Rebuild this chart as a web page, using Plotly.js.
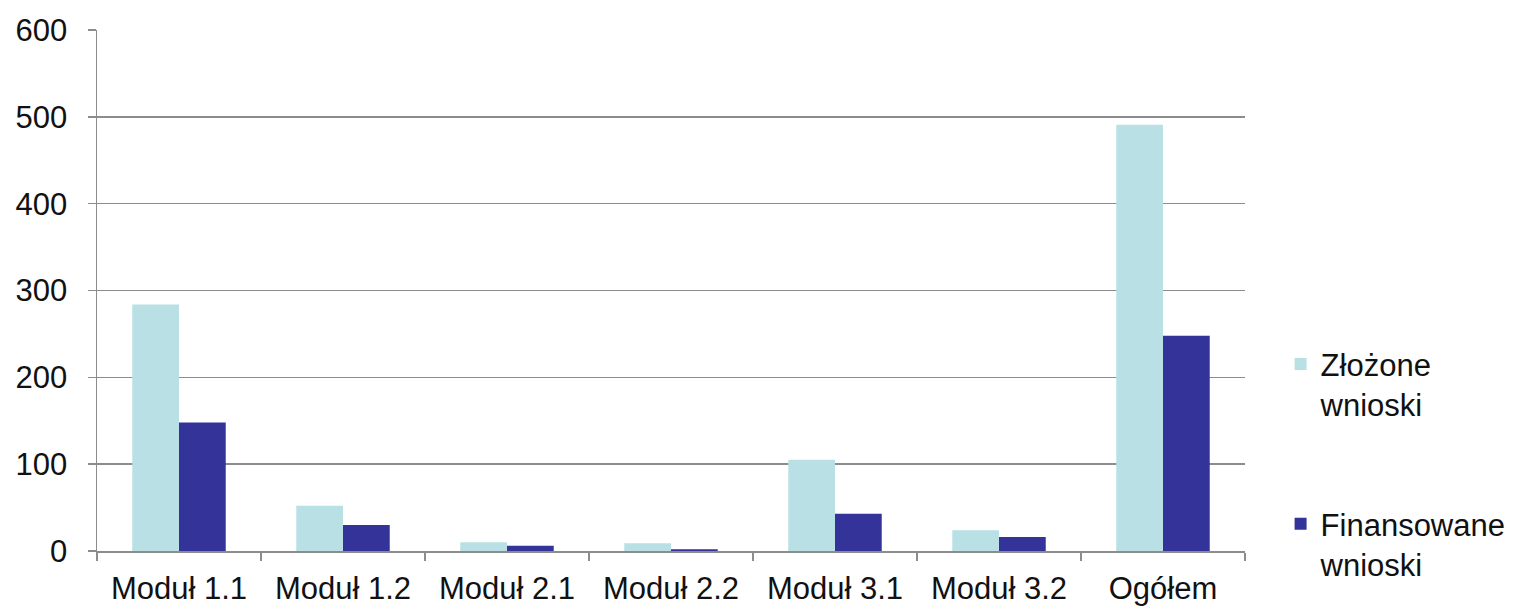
<!DOCTYPE html>
<html>
<head>
<meta charset="utf-8">
<script src="https://cdn.plot.ly/plotly-3.0.1.min.js"></script>
<style>html,body{margin:0;padding:0;background:#fff;}#chart{width:1518px;height:607px;}</style>
</head>
<body>
<div id="chart"></div>
<script>
const categories = ["Moduł 1.1", "Moduł 1.2", "Moduł 2.1", "Moduł 2.2", "Moduł 3.1", "Moduł 3.2", "Ogółem"];
const zlozone = [284, 52, 10, 9, 105, 24, 491];
const finansowane = [148, 30, 6, 2, 43, 16, 248];
const seriesNames = ["Złożone<br>wnioski", "Finansowane<br>wnioski"];
const yTicks = [0, 100, 200, 300, 400, 500, 600];

const traces = [
  {type: "bar", x: categories, y: zlozone, name: seriesNames[0], legendgroup: "a",
   marker: {color: "#B9E0E5"}, hoverinfo: "x+y"},
  {type: "bar", x: categories, y: finansowane, name: seriesNames[1], legendgroup: "b",
   marker: {color: "#333399"}, hoverinfo: "x+y"}
];

const layout = {
  width: 1518, height: 607,
  margin: {l: 97, r: 273, t: 30, b: 56, autoexpand: false},
  paper_bgcolor: "#fff", plot_bgcolor: "#fff",
  font: {family: "Liberation Sans, Arial, sans-serif", size: 31, color: "#111"},
  barmode: "group", bargap: 0.43, bargroupgap: 0,
  showlegend: true,
  legend: {x: 1.031, xanchor: "left", y: 0.41, yanchor: "top", valign: "top",
           tracegroupgap: 76, font: {size: 31, color: "#111"}, bgcolor: "rgba(0,0,0,0)"},
  xaxis: {type: "category", showgrid: false, showline: true, linecolor: "#8c8c8c", linewidth: 1.5,
          ticks: "outside", tickson: "boundaries", ticklen: 8, tickcolor: "#8c8c8c", tickwidth: 1.5,
          zeroline: false, fixedrange: true, ticklabelstandoff: 9},
  yaxis: {range: [0, 600], tickvals: yTicks, showgrid: true, gridcolor: "#8c8c8c", gridwidth: 1.5,
          showline: true, linecolor: "#8c8c8c", linewidth: 1.5, ticks: "outside", ticklen: 8,
          tickcolor: "#8c8c8c", tickwidth: 1.5, zeroline: false, ticklabelstandoff: 14, fixedrange: true}
};

Plotly.newPlot("chart", traces, layout, {displayModeBar: false, staticPlot: true});
</script>
</body>
</html>
